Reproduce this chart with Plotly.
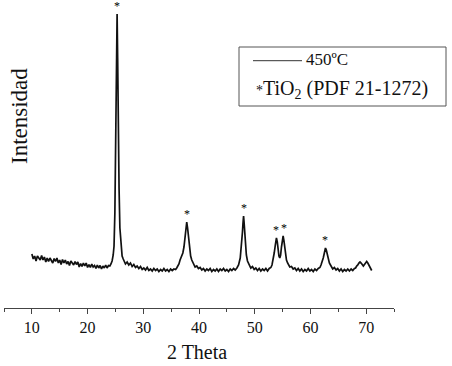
import plotly.graph_objects as go

# ---- data (intensity in arbitrary units) ----
two_theta = [
    10.00, 10.25, 10.50, 10.75, 11.00, 11.25, 11.50, 11.75, 12.00, 12.25, 12.50, 12.75,
    13.00, 13.25, 13.50, 13.75, 14.00, 14.25, 14.50, 14.75, 15.00, 15.25, 15.50, 15.75,
    16.00, 16.25, 16.50, 16.75, 17.00, 17.25, 17.50, 17.75, 18.00, 18.25, 18.50, 18.75,
    19.00, 19.25, 19.50, 19.75, 20.00, 20.25, 20.50, 20.75, 21.00, 21.25, 21.50, 21.75,
    22.00, 22.25, 22.50, 22.75, 23.00, 23.25, 23.50, 23.75, 24.00,
    24.2, 24.4, 24.6, 24.75, 24.9, 25.05, 25.15, 25.3, 25.4, 25.5, 25.65, 25.8, 26.0,
    26.2, 26.4, 26.6,
    26.8, 27.1, 27.4, 27.7, 28.0, 28.3, 28.6, 28.9, 29.2, 29.5, 29.8, 30.1, 30.4, 30.7,
    31.0, 31.3, 31.6, 31.9, 32.2, 32.5, 32.8, 33.1, 33.4, 33.7, 34.0, 34.3, 34.6, 34.9,
    35.2, 35.5, 35.8,
    36.0, 36.2, 36.4, 36.6, 36.8, 36.95, 37.1, 37.3, 37.5, 37.65, 37.8, 37.95, 38.1,
    38.3, 38.5, 38.7, 38.9, 39.1,
    39.3, 39.6, 39.9, 40.2, 40.5, 40.8, 41.1, 41.4, 41.7, 42.0, 42.3, 42.6, 42.9, 43.2,
    43.5, 43.8, 44.1, 44.4, 44.7, 45.0, 45.3, 45.6, 45.9, 46.2, 46.5, 46.8,
    47.1, 47.4, 47.6, 47.8, 47.9, 48.0, 48.1, 48.2, 48.35, 48.5, 48.7, 48.9, 49.1,
    49.3, 49.6, 49.9, 50.2, 50.5, 50.8, 51.1, 51.4, 51.7, 52.0, 52.3, 52.6, 52.9,
    53.1, 53.3, 53.5, 53.7, 53.9, 54.05, 54.2, 54.35, 54.5, 54.65, 54.8, 54.95, 55.1,
    55.25, 55.4, 55.55, 55.7, 55.9, 56.1,
    56.3, 56.6, 56.9, 57.2, 57.5, 57.8, 58.1, 58.4, 58.7, 59.0, 59.3, 59.6, 59.9, 60.2,
    60.5, 60.8, 61.1, 61.4, 61.7,
    61.9, 62.1, 62.3, 62.5, 62.7, 62.85, 63.0, 63.2, 63.4, 63.6, 63.8,
    64.0, 64.3, 64.6, 64.9, 65.2, 65.5, 65.8, 66.1, 66.4, 66.7, 67.0, 67.3, 67.6, 67.9,
    68.1, 68.3, 68.5, 68.7, 68.9, 69.1, 69.3, 69.5, 69.7, 69.9, 70.1, 70.3, 70.5, 70.7,
    70.9, 71.0,
]
intensity = [
    54, 49, 52, 47, 52, 50, 48, 52.5, 48, 51, 46, 50,
    46.5, 50, 48, 45, 49.5, 46.5, 50, 45, 48, 43.5, 48.5, 45,
    48, 44, 46.5, 42.5, 47, 45, 43, 46.5, 43.5, 46, 41, 44.5,
    41.5, 45, 42, 45, 40.5, 43.5, 40.5, 44, 41, 42.5, 39.5, 43,
    40, 42.5, 39, 42, 40, 43, 40, 42.5, 42,
    44, 47, 53, 62, 95, 170, 240, 294, 250, 180, 120, 80, 60,
    52, 49, 47,
    44, 46, 43, 45, 41.5, 43.5, 40.5, 42, 39.5, 41.5, 38.5, 40, 38, 40.5,
    37.5, 39, 37, 39.5, 37.5, 39, 36.5, 38.5, 37, 39.5, 37, 38.5, 36.5, 39,
    37.5, 39, 38.5,
    40, 42, 44, 48, 51, 53, 55, 61, 71, 79, 86, 80, 70,
    60, 52, 48, 45, 43,
    41, 42, 39.5, 40.5, 38, 39.5, 37, 39, 37.5, 39.5, 36.5, 38.5, 37, 39,
    36.5, 39, 37.5, 39.5, 37, 38.5, 36.5, 39, 37.5, 39.5, 38, 40,
    43, 50, 60, 76, 85, 92, 85, 76, 62, 53, 47, 44, 42,
    40, 41.5, 38.5, 40, 37.5, 39.5, 37, 39, 37.5, 39.5, 37, 39.5, 40.5,
    43, 48, 55, 63, 70, 66, 58, 52, 50, 53, 61, 68, 72,
    67, 59, 52, 48, 45, 42.5,
    41, 41.5, 39, 40, 37.5, 39.5, 37, 39, 36.5, 38.5, 37, 39.5, 37, 38.5,
    36.5, 39, 37.5, 39.5, 40.5,
    43, 46, 50, 55, 60, 58, 54, 49, 45, 43, 41.5,
    39, 40.5, 38, 39.5, 37, 39, 36.5, 38.5, 37, 39, 37, 39, 37.5, 39.5,
    40, 42, 43, 45, 46, 45, 43, 42, 43.5, 45, 46.5, 45, 42.5, 40,
    38, 37.5,
]

peak_pos = [25.3, 37.8, 48.0, 53.9, 55.3, 62.7]
peak_int = [294, 86, 92, 70, 72, 60]

x_ticks = [10, 20, 30, 40, 50, 60, 70]

SERIF = "Liberation Serif, Times New Roman, serif"
W, H = 452, 366
ML, MR, MT, MB = 4, 58, 0, 58


def px(x):
    return (x - ML) / (W - ML - MR)


def py(y):
    return (H - MB - y) / (H - MT - MB)


fig = go.Figure()
fig.add_trace(go.Scatter(x=two_theta, y=intensity, mode="lines",
                         line=dict(color="#111111", width=1.7),
                         showlegend=False, hoverinfo="skip"))

annotations = []
for xp, yp in zip(peak_pos, peak_int):
    annotations.append(dict(x=xp, y=yp, xref="x", yref="y", text="*",
                            showarrow=False, yanchor="middle", yshift=8,
                            font=dict(family=SERIF, size=12, color="black")))

# axis titles
annotations.append(dict(x=px(19), y=py(116), xref="paper", yref="paper",
                        text="Intensidad", textangle=-90, showarrow=False,
                        xanchor="center", yanchor="middle",
                        font=dict(family=SERIF, size=23, color="#111")))
annotations.append(dict(x=px(197), y=py(352), xref="paper", yref="paper",
                        text="2 Theta", showarrow=False,
                        xanchor="center", yanchor="middle",
                        font=dict(family=SERIF, size=20, color="#111")))
# legend texts
annotations.append(dict(x=px(304), y=py(60), xref="paper", yref="paper",
                        text="450ºC", showarrow=False,
                        xanchor="left", yanchor="middle",
                        font=dict(family=SERIF, size=17, color="#111")))
annotations.append(dict(x=px(254), y=py(89), xref="paper", yref="paper",
                        text="<span style='font-size:14px'>*</span>TiO<sub>2</sub> (PDF 21-1272)",
                        showarrow=False, xanchor="left", yanchor="middle",
                        font=dict(family=SERIF, size=20, color="#111")))

shapes = [
    dict(type="rect", xref="paper", yref="paper",
         x0=px(239), x1=px(446), y0=py(106), y1=py(47),
         line=dict(color="#555", width=1), fillcolor="rgba(0,0,0,0)"),
    dict(type="line", xref="paper", yref="paper",
         x0=px(253), x1=px(302), y0=py(60.7), y1=py(60.7),
         line=dict(color="#333", width=1)),
]

fig.update_layout(
    width=W, height=H,
    margin=dict(l=ML, r=MR, t=MT, b=MB),
    paper_bgcolor="white", plot_bgcolor="white",
    annotations=annotations, shapes=shapes,
    xaxis=dict(range=[5, 75], tickvals=x_ticks, ticktext=[str(t) for t in x_ticks],
               showline=True, linecolor="#444", linewidth=1,
               ticks="outside", ticklen=5, tickwidth=1, tickcolor="#444",
               minor=dict(tickvals=[5, 15, 25, 35, 45, 55, 65, 75], ticks="outside",
                          ticklen=3, tickcolor="#444"),
               showgrid=False, zeroline=False,
               tickfont=dict(family=SERIF, size=16, color="#111")),
    yaxis=dict(range=[0, H - MT - MB], visible=False, fixedrange=True),
)

fig.write_html("out.html", config={"displayModeBar": False},
               post_script="document.body.style.margin='0';document.body.style.overflow='hidden';")
